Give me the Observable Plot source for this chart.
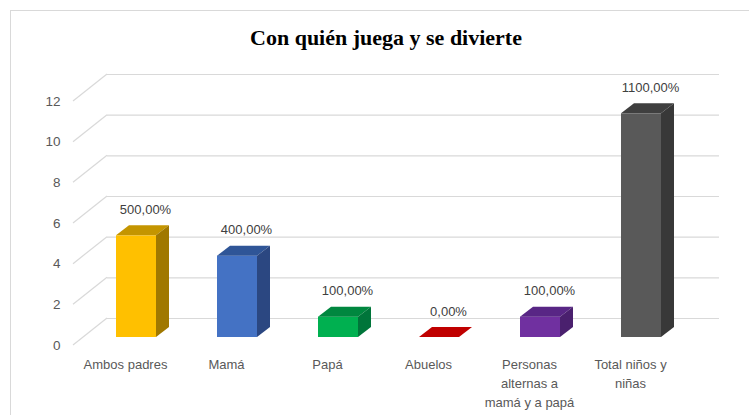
<!DOCTYPE html>
<html>
<head>
<meta charset="utf-8">
<script src="https://cdn.jsdelivr.net/npm/d3@7"></script>
<script src="https://cdn.jsdelivr.net/npm/@observablehq/plot@0.6"></script>
<style>
  html, body { margin: 0; padding: 0; background: #fff; }
  #wrap { position: relative; width: 749px; height: 415px; overflow: hidden; background: #fff; }
  #frame { position: absolute; left: 10px; top: 10px; width: 739px; height: 405px;
           border-top: 1px solid #d9d9d9; border-left: 1px solid #d9d9d9; box-sizing: border-box; }
  #title { position: absolute; top: 26.5px; left: 386px; transform: translateX(-50%);
           font-family: "Liberation Serif", "Times New Roman", serif; font-weight: bold;
           font-size: 22px; line-height: 1; color: #000; white-space: nowrap; }
  #chart { position: absolute; left: 0; top: 60px; }
</style>
</head>
<body>
<div id="wrap">
  <div id="frame"></div>
  <div id="title">Con quién juega y se divierte</div>
  <div id="chart"></div>
</div>
<script>
// ---- data ----
const categories = ["Ambos padres", "Mamá", "Papá", "Abuelos", "Personas alternas a mamá y a papá", "Total niños y niñas"];
const labelLines = ["Ambos padres", "Mamá", "Papá", "Abuelos", "Personas\nalternas a\nmamá y a papá", "Total niños y\nniñas"];
const values = [5, 4, 1, 0, 1, 11];
const yTicks = [0, 2, 4, 6, 8, 10, 12];
const frontColors = ["#FFC000", "#4472C4", "#00B050", "#C00000", "#7030A0", "#595959"];
const topColors   = ["#C49500", "#2F5597", "#00873F", "#C00000", "#582685", "#3F3F3F"];
const sideColors  = ["#A07800", "#2B4781", "#00753A", "#9A0000", "#4A206E", "#383838"];

const rows = categories.map((c, i) => ({cat: c, label: labelLines[i], value: values[i], i}));
const fmt = v => (v * 100).toFixed(2).replace(".", ",") + "%";

// 3D depth offsets (pixels)
const DX = 13, DY = -10;      // bar depth
const WALL = -19;             // back wall offset from bar front
const FLOOR = 8;              // front floor edge offset

function wallDiagonals(index, scales) {
  const y = scales.y;
  const g = d3.create("svg:g").attr("stroke", "#d9d9d9").attr("stroke-width", 1.2);
  for (const t of yTicks) {
    g.append("line")
      .attr("x1", 73).attr("y1", y(t) + FLOOR)
      .attr("x2", 107).attr("y2", y(t) + WALL);
  }
  return g.node();
}

function depthFaces(index, scales) {
  const {x, y} = scales;
  const bw = x.bandwidth();
  const g = d3.create("svg:g");
  rows.forEach((r) => {
    const x0 = x(r.cat), x1 = x0 + bw, yt = y(r.value), yb = y(0);
    g.append("path")
      .attr("d", `M${x0},${yt}L${x0 + DX},${yt + DY}L${x1 + DX},${yt + DY}L${x1},${yt}Z`)
      .attr("fill", topColors[r.i]);
    if (yb - yt > 0.5) {
      g.append("path")
        .attr("d", `M${x1},${yt}L${x1 + DX},${yt + DY}L${x1 + DX},${yb + DY}L${x1},${yb}Z`)
        .attr("fill", sideColors[r.i]);
    }
  });
  return g.node();
}

const chart = Plot.plot({
  width: 749,
  height: 355,
  marginLeft: 53,
  marginRight: 24,
  marginTop: 33,
  marginBottom: 78,
  style: {fontFamily: "'Liberation Sans', Arial, sans-serif", fontSize: "13px", color: "#595959", background: "transparent"},
  x: {domain: categories, padding: 0.6, axis: null},
  y: {domain: [0, 12], axis: null},
  marks: [
    Plot.ruleY(yTicks, {dy: WALL, stroke: "#d9d9d9", strokeWidth: 1.2, insetLeft: 54, insetRight: 6}),
    wallDiagonals,
    Plot.text(yTicks, {y: d => d, frameAnchor: "left", dx: 7, dy: FLOOR, textAnchor: "end", text: d => String(d), fill: "#595959", fontSize: 13.5}),
    Plot.barY(rows, {x: "cat", y: "value", fill: (d) => frontColors[d.i]}),
    depthFaces,
    Plot.text(rows, {x: "cat", y: "value", text: d => fmt(d.value), dx: 9, dy: -26, fill: "#404040"}),
    Plot.text(rows, {x: "cat", y: () => 0, text: "label", dx: -11, dy: 18, lineAnchor: "top", lineHeight: 1.47, fill: "#595959"})
  ]
});
document.getElementById("chart").appendChild(chart);
</script>
</body>
</html>
